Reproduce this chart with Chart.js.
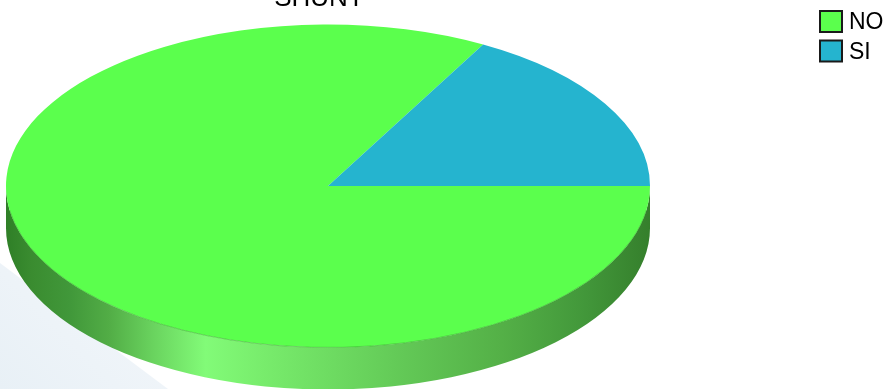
<!DOCTYPE html>
<html>
<head>
<meta charset="utf-8">
<script src="https://cdn.jsdelivr.net/npm/chart.js@4"></script>
<style>
  html, body { margin: 0; padding: 0; background: #ffffff; }
  #wrap { position: relative; width: 888px; height: 389px; }
</style>
</head>
<body>
<div id="wrap"><canvas id="c" width="888" height="389"></canvas></div>
<script>
// SHUNT answers
const titleText = 'SHUNT';
const categories = ['NO', 'SI'];
const values = [83, 17];
const sliceColors = ['#5bff4d', '#25b4cf'];

// Pie geometry: circle of radius RY is stretched horizontally into an ellipse
const CX = 328, CY = 186, RY = 161.5, RX = 322, DEPTH = 42;

const bgWedge = {
  id: 'bgWedge',
  beforeDraw(chart) {
    const ctx = chart.ctx;
    ctx.save();
    const g = ctx.createLinearGradient(0, 389, 120, 270);
    g.addColorStop(0, '#e8f0f6');
    g.addColorStop(1, '#f2f6fa');
    ctx.fillStyle = g;
    ctx.beginPath();
    ctx.moveTo(0, 263);
    ctx.lineTo(168, 389);
    ctx.lineTo(0, 389);
    ctx.closePath();
    ctx.fill();
    ctx.restore();
  }
};

const pie3d = {
  id: 'pie3d',
  beforeDatasetsDraw(chart) {
    const ctx = chart.ctx;
    const arcs = chart.getDatasetMeta(0).data;
    if (!arcs.length) return;
    const a0 = arcs[0];
    const sx = RX / a0.outerRadius;
    const rx = RX, ry = a0.outerRadius;
    const cx = a0.x, cy = a0.y;

    // Side wall for the front half of the disc
    const g = ctx.createLinearGradient(cx - rx, 0, cx + rx, 0);
    g.addColorStop(0.00, '#2f7f27');
    g.addColorStop(0.04, '#3a8c30');
    g.addColorStop(0.10, '#41983a');
    g.addColorStop(0.16, '#52ad46');
    g.addColorStop(0.23, '#6ad45f');
    g.addColorStop(0.31, '#82fb78');
    g.addColorStop(0.40, '#78ec6c');
    g.addColorStop(0.50, '#6edc62');
    g.addColorStop(0.62, '#62c856');
    g.addColorStop(0.77, '#54b047');
    g.addColorStop(0.90, '#42973a');
    g.addColorStop(1.00, '#357f2c');

    ctx.save();
    const twoPi = Math.PI * 2;
    arcs.forEach((arc) => {
      let s = ((arc.startAngle % twoPi) + twoPi) % twoPi;
      const e = s + (arc.endAngle - arc.startAngle);
      [[s, e], [s - twoPi, e - twoPi]].forEach(([ss, ee]) => {
        const from = Math.max(ss, 0), to = Math.min(ee, Math.PI);
        if (to <= from) return;
        ctx.beginPath();
        ctx.ellipse(cx, cy, rx, ry, 0, from, to, false);
        ctx.ellipse(cx, cy + DEPTH, rx, ry, 0, to, from, true);
        ctx.closePath();
        ctx.fillStyle = g;
        ctx.fill();
      });
    });
    ctx.restore();

    // Stretch the circular pie into the top ellipse
    ctx.save();
    ctx.translate(cx, cy);
    ctx.scale(sx, 1);
    ctx.translate(-cx, -cy);
  },
  afterDatasetsDraw(chart) {
    const ctx = chart.ctx;
    ctx.restore();
    const a0 = chart.getDatasetMeta(0).data[0];
    if (!a0) return;
    // thin rim along the front edge of the top face
    ctx.save();
    ctx.beginPath();
    ctx.ellipse(a0.x, a0.y, RX, a0.outerRadius, 0, 0.15, Math.PI - 0.15, false);
    ctx.lineWidth = 1;
    ctx.strokeStyle = 'rgba(60,170,50,0.55)';
    ctx.stroke();
    ctx.restore();
  }
};

const labelsPlugin = {
  id: 'labelsPlugin',
  afterDraw(chart) {
    const ctx = chart.ctx;
    ctx.save();
    // Title
    ctx.fillStyle = '#000000';
    ctx.font = '26px "Liberation Sans", Arial, sans-serif';
    ctx.textAlign = 'center';
    ctx.textBaseline = 'alphabetic';
    ctx.fillText(titleText, 319, 6);

    // Legend
    ctx.font = '23px "Liberation Sans", Arial, sans-serif';
    ctx.textAlign = 'left';
    ctx.textBaseline = 'middle';
    categories.forEach((name, i) => {
      const y = 11 + i * 29.5;
      ctx.fillStyle = sliceColors[i];
      ctx.fillRect(820, y, 22, 21);
      ctx.lineWidth = 2;
      ctx.strokeStyle = '#1a1a1a';
      ctx.strokeRect(820, y, 22, 21);
      ctx.fillStyle = '#000000';
      ctx.fillText(name, 849, y + 12);
    });
    ctx.restore();
  }
};

new Chart(document.getElementById('c'), {
  type: 'pie',
  data: {
    labels: categories,
    datasets: [{
      data: values,
      backgroundColor: sliceColors,
      borderWidth: 0,
      hoverOffset: 0
    }]
  },
  options: {
    responsive: false,
    animation: false,
    events: [],
    rotation: 90,
    layout: {
      padding: {
        left: CX - RY,
        right: 888 - CX - RY,
        top: CY - RY,
        bottom: 389 - CY - RY
      }
    },
    plugins: {
      legend: { display: false },
      title: { display: false },
      tooltip: { enabled: false }
    }
  },
  plugins: [bgWedge, pie3d, labelsPlugin]
});
</script>
</body>
</html>
